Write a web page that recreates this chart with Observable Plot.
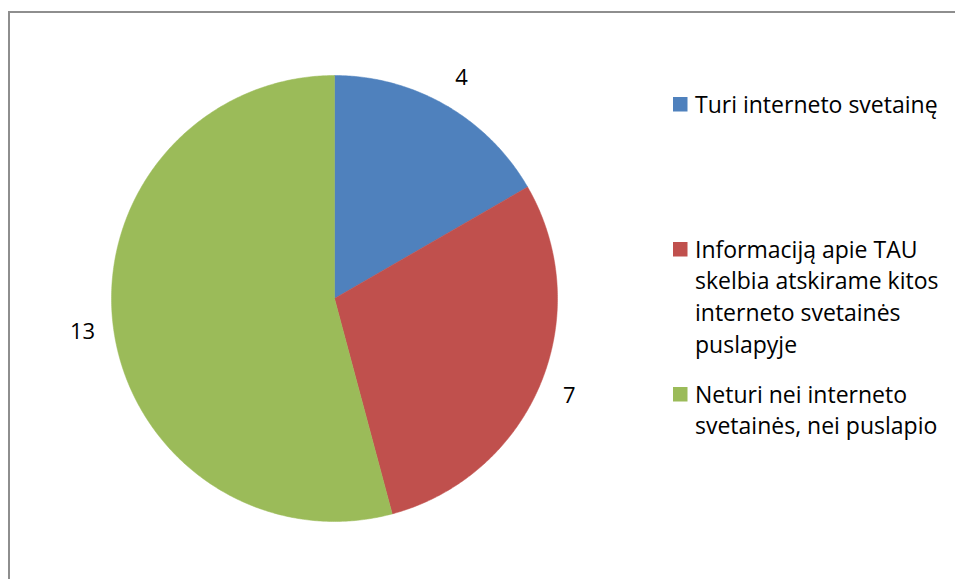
<!DOCTYPE html>
<html>
<head>
<meta charset="utf-8">
<script src="https://cdn.jsdelivr.net/npm/d3@7"></script>
<script src="https://cdn.jsdelivr.net/npm/@observablehq/plot@0.6"></script>
<style>
  html, body { margin: 0; padding: 0; background: #fff; }
  #wrap { position: relative; width: 955px; height: 579px; overflow: hidden; font-family: "Open Sans", sans-serif; }
  #frame { position: absolute; left: 8px; top: 11px; width: 1000px; height: 700px; border: 2px solid #8e8e8e; box-sizing: border-box; pointer-events: none; }
  #chart { position: absolute; left: 0; top: 0; }
</style>
</head>
<body>
<div id="wrap"><div id="chart"></div><div id="frame"></div></div>
<script>
// ---- data ----
const categories = [
  "Turi interneto svetainę",
  "Informaciją apie TAU skelbia atskirame kitos interneto svetainės puslapyje",
  "Neturi nei interneto svetainės, nei puslapio"
];
const values = [4, 7, 13];
const colors = ["#4f81bd", "#c0504d", "#9bbb59"];
const legendLines = [
  ["Turi interneto svetainę"],
  ["Informaciją apie TAU", "skelbia atskirame kitos", "interneto svetainės", "puslapyje"],
  ["Neturi nei interneto", "svetainės, nei puslapio"]
];

// ---- layout ----
const W = 955, H = 579;
const cx = 334, cy = 298, R = 223;
const labelR = 1.14;
const font = "'Open Sans', sans-serif";

// ---- geometry from values ----
const total = d3.sum(values);
const slicePts = [];
const labels = [];
let cum = 0;
values.forEach((v, i) => {
  const a0 = cum / total * 2 * Math.PI;
  const a1 = (cum + v) / total * 2 * Math.PI;
  cum += v;
  const n = Math.max(2, Math.ceil((a1 - a0) / (Math.PI / 360)));
  slicePts.push({cat: categories[i], x: 0, y: 0});
  for (let k = 0; k <= n; k++) {
    const a = a0 + (a1 - a0) * k / n;
    slicePts.push({cat: categories[i], x: Math.sin(a), y: Math.cos(a)});
  }
  slicePts.push({cat: categories[i], x: 0, y: 0});
  const am = (a0 + a1) / 2;
  labels.push({x: labelR * Math.sin(am), y: labelR * Math.cos(am), text: String(v)});
});

const chart = Plot.plot({
  width: W, height: H,
  margin: 0,
  style: {fontFamily: font, background: "transparent"},
  x: {domain: [-cx / R, (W - cx) / R], axis: null},
  y: {domain: [-(H - cy) / R, cy / R], axis: null},
  color: {domain: categories, range: colors},
  marks: [
    Plot.line(slicePts, {x: "x", y: "y", z: "cat", fill: "cat", stroke: "cat", strokeWidth: 0.5, curve: "linear"}),
    Plot.text(labels, {x: "x", y: "y", text: "text", fontSize: 22, fill: "#000"})
  ]
});

// legend drawn into the same SVG
const svg = d3.select(chart);
const legendX = 673, textX = 695;
const firstBaselines = [112.5, 257.5, 402.5];
const lineH = 31.8;
const lg = svg.append("g")
  .attr("font-family", font).attr("font-size", 23).attr("fill", "#000")
  .attr("text-anchor", "start");
legendLines.forEach((lines, i) => {
  const b = firstBaselines[i];
  lg.append("rect").attr("x", legendX).attr("y", b - 15.5).attr("width", 14.5).attr("height", 14.5).attr("fill", colors[i]);
  const t = lg.append("text").attr("x", textX).attr("y", b);
  lines.forEach((s, j) => t.append("tspan").attr("x", textX).attr("y", b + j * lineH).text(s));
});

document.getElementById("chart").appendChild(chart);
</script>
</body>
</html>
